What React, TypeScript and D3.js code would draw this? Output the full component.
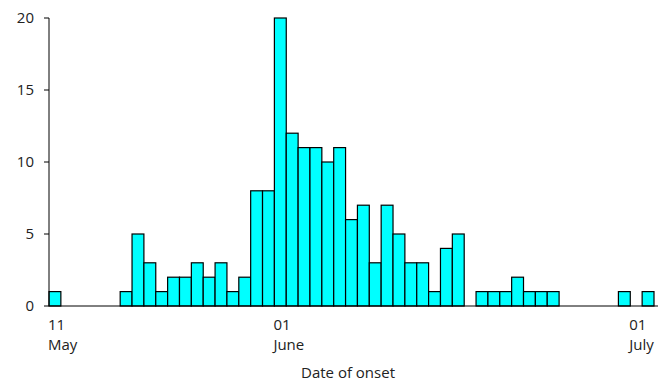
import React, { useEffect, useRef } from "react";
import * as d3 from "d3";

// days counted from the first bar (labelled 11 May), one bar per day
const days = d3.range(0, 51);
const cases = [
  1, 0, 0, 0, 0, 0, 1, 5, 3, 1,
  2, 2, 3, 2, 3, 1, 2, 8, 8, 20,
  12, 11, 11, 10, 11, 6, 7, 3, 7, 5,
  3, 3, 1, 4, 5, 0, 1, 1, 1, 2,
  1, 1, 1, 0, 0, 0, 0, 0, 1, 0,
  1,
];
const yTicks = [0, 5, 10, 15, 20];
const dateTicks = [
  { day: 0, num: "11", month: "May" },
  { day: 19, num: "01", month: "June" },
  { day: 49, num: "01", month: "July" },
];
const xTitle = "Date of onset";

const App = () => {
  const svgRef = useRef<SVGSVGElement>(null);

  useEffect(() => {
    const width = 664;
    const height = 382;
    const font = "'Open Sans', sans-serif";
    const fs = 15;

    const svg = d3.select(svgRef.current);
    svg.selectAll("*").remove();
    svg.attr("width", width).attr("height", height);

    const x = d3.scaleBand<number>()
      .domain(days)
      .range([49, 654])
      .padding(0);

    const y = d3.scaleLinear()
      .domain([0, 20])
      .range([306, 18]);

    // bars
    svg.append("g")
      .selectAll("rect")
      .data(days.filter((d) => cases[d] > 0))
      .join("rect")
      .attr("x", (d) => x(d)!)
      .attr("y", (d) => y(cases[d]))
      .attr("width", x.bandwidth())
      .attr("height", (d) => y(0) - y(cases[d]))
      .attr("fill", "#00ffff")
      .attr("stroke", "#000")
      .attr("stroke-width", 1.2);

    // y axis
    const yAxis = svg.append("g");
    yAxis.append("line")
      .attr("x1", 49).attr("x2", 49)
      .attr("y1", y(20)).attr("y2", y(0))
      .attr("stroke", "#000");
    yAxis.selectAll("line.tick")
      .data(yTicks)
      .join("line")
      .attr("class", "tick")
      .attr("x1", 44).attr("x2", 49)
      .attr("y1", (d) => y(d)).attr("y2", (d) => y(d))
      .attr("stroke", "#000");
    yAxis.selectAll("text")
      .data(yTicks)
      .join("text")
      .attr("x", 34)
      .attr("y", (d) => y(d))
      .attr("dy", "0.35em")
      .attr("text-anchor", "end")
      .attr("font-family", font)
      .attr("font-size", fs)
      .attr("fill", "#222")
      .text((d) => d);

    // x axis
    svg.append("line")
      .attr("x1", 49).attr("x2", 658)
      .attr("y1", y(0)).attr("y2", y(0))
      .attr("stroke", "#000");

    const lab = svg.append("g")
      .selectAll("g")
      .data(dateTicks)
      .join("g")
      .attr("transform", (d) => `translate(${x(d.day)! - 1},0)`)
      .attr("font-family", font)
      .attr("font-size", fs)
      .attr("fill", "#222");
    lab.append("text").attr("y", 330).text((d) => d.num);
    lab.append("text").attr("y", 350).text((d) => d.month);

    svg.append("text")
      .attr("x", 348)
      .attr("y", 378)
      .attr("text-anchor", "middle")
      .attr("font-family", font)
      .attr("font-size", fs)
      .attr("fill", "#222")
      .text(xTitle);
  }, []);

  return (
    <div style={{ position: "absolute", left: 0, top: 0 }}>
      <svg ref={svgRef}></svg>
    </div>
  );
};

export default App;
